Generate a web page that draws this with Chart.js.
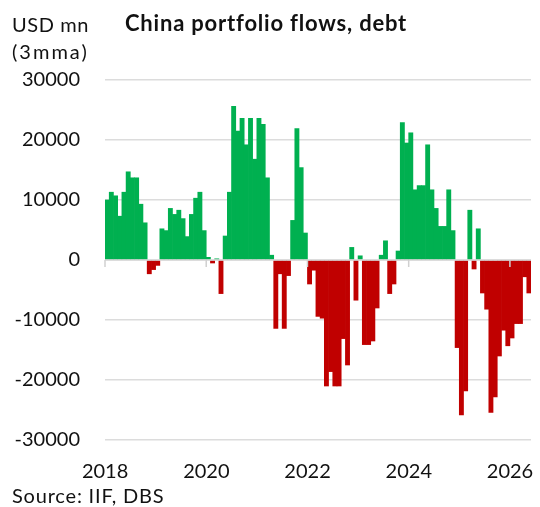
<!DOCTYPE html>
<html>
<head>
<meta charset="utf-8">
<script src="https://cdn.jsdelivr.net/npm/chart.js@4"></script>
<style>
  html, body { margin: 0; padding: 0; background: #fff; }
  #wrap { position: relative; width: 540px; height: 507px; overflow: hidden; }
  #chart { position: absolute; left: 0; top: 0; }
  .txt { position: absolute; font-family: Lato, "Open Sans", sans-serif; font-size: 20px; line-height: 24px; color: #111; white-space: nowrap; }
  #title { font-weight: bold; font-size: 22px; letter-spacing: 0.8px; }
</style>
</head>
<body>
<div id="wrap">
  <canvas id="chart" width="540" height="507"></canvas>
  <div class="txt" id="unit1" style="left:12px; top:12px; letter-spacing:0.6px;">USD mn</div>
  <div class="txt" id="unit2" style="left:12px; top:39px; letter-spacing:2px;">(3mma)</div>
  <div class="txt" id="title" style="left:125px; top:11px;">China portfolio flows, debt</div>
  <div class="txt" id="source" style="left:12px; top:483px; letter-spacing:0.8px;">Source: IIF, DBS</div>
</div>
<script>
// monthly debt flows, USD mn, 3mma
const years = [2018, 2019, 2020, 2021, 2022, 2023, 2024, 2025, 2026];
const months = ['Jan', 'Feb', 'Mar', 'Apr', 'May', 'Jun', 'Jul', 'Aug', 'Sep', 'Oct', 'Nov', 'Dec'];

const flows2018 = [10000, 11300, 10700, 7300, 11300, 14700, 13700, 13700, 9300, 6200, -2300, -1600];
const flows2019 = [-900, 5200, 4900, 8600, 7600, 8300, 6900, 3900, 7600, 10300, 11300, 4900];
const flows2020 = [450, -500, 200, -5600, 4000, 11300, 25600, 21500, 23600, 19200, 23600, 16800];
const flows2021 = [23600, 22600, 13700, 800, -11400, -2300, -11400, -2600, 6600, 21900, 15400, 4500];
const flows2022 = [-4000, -1700, -9400, -9700, -21000, -18600, -21000, -21000, -13100, -17500, 2100, -6700];
const flows2023 = [700, -14100, -14100, -13500, -8000, 800, 3200, -5600, -4000, 1500, 22900, 19500];
const flows2024 = [21200, 11700, 12400, 12400, 19200, 11700, 8600, 5600, 5600, 11700, 4900, -14600];
const flows2025 = [-25800, -21800, 8300, -1500, 5200, -5500, -8200, -25400, -22800, -16000, -11700, -14300];
const flows2026 = [-13000, -10600, -10600, -2800, -5500];

const tickYears = ['2018', '2020', '2022', '2024', '2026'];
const yTicks = [-30000, -20000, -10000, 0, 10000, 20000, 30000];

const GREEN = '#00B050';
const RED = '#C00000';

const flows = [].concat(flows2018, flows2019, flows2020, flows2021, flows2022,
  flows2023, flows2024, flows2025, flows2026);

const labels = [];
years.forEach(y => months.forEach(m => labels.push(m + ' ' + y)));
labels.length = flows.length;

const isYearTick = lab => lab.startsWith('Jan') && tickYears.includes(lab.slice(4));

// zero line + small tick marks every two years, drawn over the bars
const zeroAxis = {
  id: 'zeroAxis',
  afterDatasetsDraw(chart) {
    const { ctx, chartArea, scales } = chart;
    const x = scales.x, y = scales.y;
    const y0 = y.getPixelForValue(0);
    ctx.save();
    ctx.strokeStyle = '#d0d0d0';
    ctx.lineWidth = 1.5;
    ctx.beginPath();
    ctx.moveTo(chartArea.left, y0);
    ctx.lineTo(chartArea.right, y0);
    ctx.stroke();
    const half = (x.getPixelForValue(1) - x.getPixelForValue(0)) / 2;
    labels.forEach((lab, i) => {
      if (isYearTick(lab)) {
        const px = x.getPixelForValue(i) - half;
        ctx.beginPath();
        ctx.moveTo(px, y0);
        ctx.lineTo(px, y0 + 7);
        ctx.stroke();
      }
    });
    ctx.restore();
  }
};

new Chart(document.getElementById('chart'), {
  type: 'bar',
  data: {
    labels: labels,
    datasets: [{
      data: flows,
      backgroundColor: flows.map(v => v >= 0 ? GREEN : RED),
      borderWidth: 0,
      barPercentage: 1,
      categoryPercentage: 1
    }]
  },
  options: {
    responsive: false,
    animation: false,
    devicePixelRatio: 1,
    layout: { padding: { top: 80, right: 9, bottom: 0, left: 0 } },
    plugins: { legend: { display: false }, tooltip: { enabled: false } },
    scales: {
      x: {
        grid: { display: false, drawTicks: false },
        border: { display: false },
        afterFit: s => {
          s.height = 67;
          s.paddingLeft = 0;
          s.paddingRight = 0;
        },
        ticks: {
          autoSkip: false,
          maxRotation: 0,
          minRotation: 0,
          padding: 20,
          labelOffset: -2,
          color: '#111',
          font: { family: 'Lato, "Open Sans", sans-serif', size: 20 },
          callback: (v, i) => isYearTick(labels[i]) ? labels[i].slice(4) : ''
        }
      },
      y: {
        min: -30000,
        max: 30000,
        afterFit: s => { s.width = 105; },
        afterBuildTicks: s => { s.ticks = yTicks.map(v => ({ value: v })); },
        grid: {
          drawTicks: false,
          color: ctx => ctx.tick && ctx.tick.value === 0 ? 'rgba(0,0,0,0)' : '#dcdcdc',
          lineWidth: 1.5
        },
        border: { display: false },
        ticks: {
          padding: 25,
          color: '#111',
          font: { family: 'Lato, "Open Sans", sans-serif', size: 20 },
          callback: v => String(v)
        }
      }
    }
  },
  plugins: [zeroAxis]
});
</script>
</body>
</html>
